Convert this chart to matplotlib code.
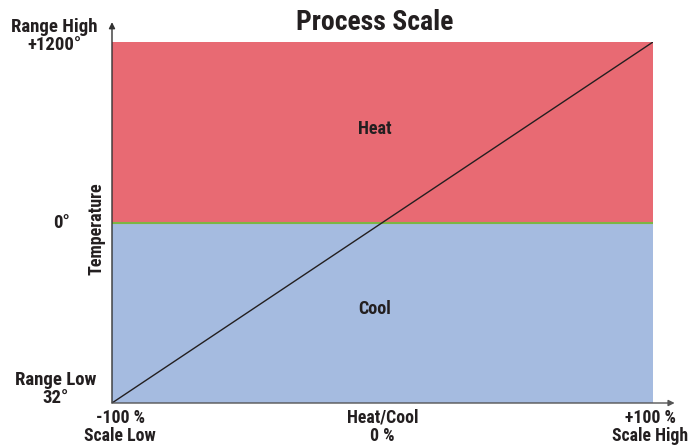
import matplotlib
matplotlib.use("Agg")
import matplotlib.pyplot as plt
from matplotlib import font_manager
from matplotlib.font_manager import FontProperties
import matplotlib.transforms as mtransforms
import os

# Data
x_range = [-100, 100]
line_x = [-100, 100]
line_y = [-1, 1]
zero_level = 0
region_names = ["Heat", "Cool"]
y_tick_pos = [1, 0, -1]
y_tick_labels = ["Range High\n+1200°", "0°", "Range Low\n32°"]
x_tick_pos = [-100, 0, 100]
x_tick_labels = ["-100 %\nScale Low", "Heat/Cool\n0 %", "+100 %\nScale High"]

files = [f.fname for f in font_manager.fontManager.ttflist]
prefs = ["LiberationSansNarrow-Bold.", "RobotoCondensed-Bold.", "OpenSans_Condensed-Bold.",
         "OpenSansCondensed-Bold.", "DejaVuSansCondensed-Bold.", "LiberationSans-Bold."]
chosen = None
for p in prefs:
    for f in files:
        if os.path.basename(f).startswith(p):
            chosen = f
            break
    if chosen:
        break

def fp(size):
    if chosen:
        return FontProperties(fname=chosen, size=size)
    return FontProperties(family="DejaVu Sans", weight="bold", size=size)

RED = "#E86A73"
BLUE = "#A5BBE0"
GREEN = "#7DB544"
TXT = "#231F20"

fig = plt.figure(figsize=(6.94, 4.47), dpi=100)
ax = fig.add_axes([112/694, 44/447, 541/694, 361/447])
ax.set_xlim(x_range)
ax.set_ylim(-1, 1)
ax.axhspan(zero_level, 1, color=RED, lw=0)
ax.axhspan(-1, zero_level, color=BLUE, lw=0)
ax.axhline(zero_level, color=GREEN, lw=1.5)
ax.plot(line_x, line_y, color=TXT, lw=1.0)
for s in ax.spines.values():
    s.set_visible(False)
ax.set_xticks([])
ax.set_yticks([])

ax.annotate("", xy=(0, 1.055), xytext=(0, 0), xycoords="axes fraction",
            arrowprops=dict(arrowstyle="-|>", color="#333333", lw=1.0,
                            mutation_scale=9, shrinkA=0, shrinkB=0), annotation_clip=False)
ax.annotate("", xy=(1.04, 0), xytext=(0, 0), xycoords="axes fraction",
            arrowprops=dict(arrowstyle="-|>", color="#555555", lw=1.0,
                            mutation_scale=9, shrinkA=0, shrinkB=0), annotation_clip=False)

ax.text(-3, 0.52, region_names[0], ha="center", va="center", fontproperties=fp(13), color=TXT)
ax.text(-3, -0.48, region_names[1], ha="center", va="center", fontproperties=fp(13), color=TXT)

ytr = mtransforms.blended_transform_factory(fig.transFigure, ax.transData)
y_cx = [54/694, 62/694, 56/694]
y_dy = [6, 0, 14]
for p, lab, cx, dy in zip(y_tick_pos, y_tick_labels, y_cx, y_dy):
    tr = mtransforms.offset_copy(ytr, fig=fig, x=0, y=dy * 0.72, units="points")
    ax.text(cx, p, lab, transform=tr, ha="center", va="center", fontproperties=fp(13.5),
            color=TXT, linespacing=1.0)

xtr = mtransforms.blended_transform_factory(ax.transData, fig.transFigure)
x_cx = [-97, 0, 99]
for p, lab, cx in zip(x_tick_pos, x_tick_labels, x_cx):
    ax.text(cx, 20/447, lab, transform=xtr, ha="center", va="center", fontproperties=fp(12.8),
            color=TXT, linespacing=1.0)

fig.text(97/694, 1 - 229/447, "Temperature", rotation=90, ha="center", va="center",
         fontproperties=fp(13), color=TXT)
fig.text(375/694, 1 - 22/447, "Process Scale", ha="center", va="center",
         fontproperties=fp(20), color=TXT)

fig.savefig("out.png", dpi=100)
